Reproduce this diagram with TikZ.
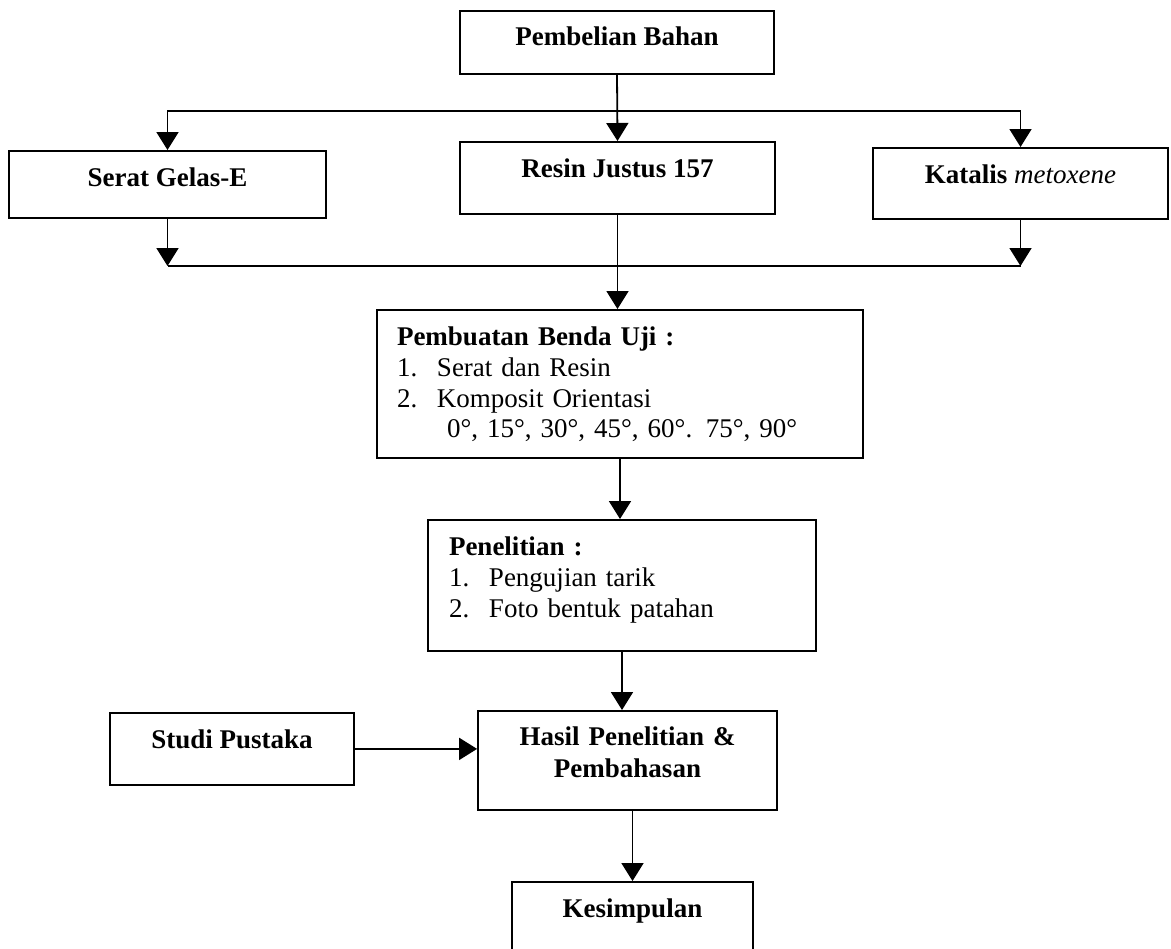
\documentclass[tikz,border=0pt]{standalone}
\usepackage{fontspec}
\setmainfont{Liberation Serif}
\usetikzlibrary{arrows.meta}

\tikzset{
  kotak/.style={draw, line width=0.9pt, anchor=north, inner sep=0pt,
    text height=18pt, font=\fontsize{13.5}{15.3}\selectfont\bfseries},
  daftar/.style={draw, line width=0.9pt, anchor=north, inner ysep=0pt,
    align=left, text height=18pt, font=\fontsize{13.5}{15.3}\selectfont},
  panah/.style={line width=0.9pt, -{Triangle[length=9pt,width=11pt]}},
  garis/.style={line width=0.9pt}
}

\newcommand{\butir}[1]{\makebox[20pt][l]{#1}}

\begin{document}
\begin{tikzpicture}[x=0.5pt, y=-0.5pt]
  \clip (0,0) rectangle (1171,948);

  % bahan
  \node[kotak, minimum width=157pt, text depth=14pt, text height=17.5pt] (beli) at (617,10) {Pembelian Bahan};
  \node[kotak, minimum width=158.5pt, text depth=15.5pt] (serat) at (167.5,150) {Serat Gelas-E};
  \node[kotak, minimum width=157.5pt, text depth=18pt] (resin) at (617.5,141) {Resin Justus 157};
  \node[kotak, minimum width=147.5pt, text depth=17.5pt] (katalis) at (1020.5,147) {Katalis \textnormal{\itshape metoxene}};

  % proses
  \node[daftar, text width=223pt, inner xsep=10pt, text depth=56pt] (buat) at (620,309) {%
    \textbf{Pembuatan Benda Uji :}\\
    \butir{1.}Serat dan Resin\\
    \butir{2.}Komposit Orientasi\\
    \hspace{25pt}0°, 15°, 30°, 45°, 60°. 75°, 90°};
  \node[daftar, text width=173pt, inner xsep=10.5pt, text depth=47.5pt] (teliti) at (622,519) {%
    \textbf{Penelitian :}\\
    \butir{1.}Pengujian tarik\\
    \butir{2.}Foto bentuk patahan};

  \node[kotak, minimum width=122pt, text depth=18pt] (studi) at (232,712) {Studi Pustaka};
  \node[kotak, text width=149.5pt, align=center, text height=17.5pt, text depth=32pt,
    font=\fontsize{13.5}{16}\selectfont\bfseries] (hasil) at (627.5,710) {Hasil Penelitian \&\\Pembahasan};
  \node[kotak, minimum width=120.5pt, text depth=21.5pt] (simpul) at (632.5,881) {Kesimpulan};

  \coordinate (atas) at (617,111);
  \coordinate (bawah) at (617,266);

  \draw[panah] (beli.south) -- (resin.north);
  \draw[panah] (atas) -| (serat.north);
  \draw[panah] (atas) -| (katalis.north);

  \draw[panah] (serat.south) -- (serat.south |- bawah);
  \draw[panah] (katalis.south) -- (katalis.south |- bawah);
  \draw[garis] (serat.south |- bawah) -- (katalis.south |- bawah);
  \draw[panah] (resin.south) -- (resin.south |- buat.north);

  \draw[panah] (buat.south) -- (buat.south |- teliti.north);
  \draw[panah] (teliti.south) -- (teliti.south |- hasil.north);
  \draw[panah] (studi.east) -- (studi.east -| hasil.west);
  \draw[panah] (simpul.north |- hasil.south) -- (simpul.north);
\end{tikzpicture}
\end{document}
